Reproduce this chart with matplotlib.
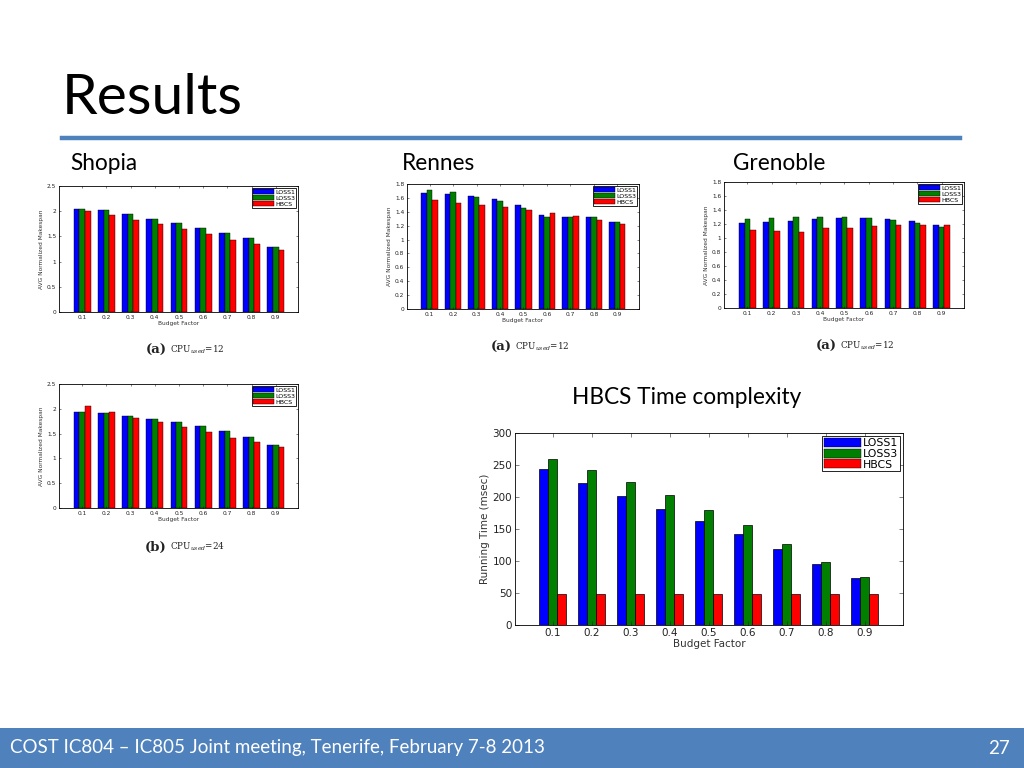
import numpy as np
import matplotlib
matplotlib.use("Agg")
import matplotlib.pyplot as plt
from matplotlib.patches import Rectangle

factores = ["0.1", "0.2", "0.3", "0.4", "0.5", "0.6", "0.7", "0.8", "0.9"]
series = ["LOSS1", "LOSS3", "HBCS"]

shopia_a_loss1 = [2.05, 2.03, 1.94, 1.85, 1.76, 1.67, 1.57, 1.46, 1.29]
shopia_a_loss3 = [2.05, 2.03, 1.94, 1.85, 1.76, 1.67, 1.57, 1.46, 1.29]
shopia_a_hbcs = [2.01, 1.93, 1.83, 1.75, 1.65, 1.55, 1.43, 1.34, 1.24]

rennes_loss1 = [1.67, 1.65, 1.63, 1.59, 1.50, 1.35, 1.33, 1.33, 1.25]
rennes_loss3 = [1.71, 1.68, 1.62, 1.55, 1.45, 1.32, 1.33, 1.33, 1.25]
rennes_hbcs = [1.57, 1.53, 1.50, 1.47, 1.43, 1.38, 1.34, 1.28, 1.22]

grenoble_loss1 = [1.22, 1.23, 1.25, 1.27, 1.28, 1.28, 1.27, 1.24, 1.18]
grenoble_loss3 = [1.27, 1.29, 1.30, 1.30, 1.30, 1.29, 1.26, 1.22, 1.16]
grenoble_hbcs = [1.12, 1.10, 1.09, 1.14, 1.15, 1.17, 1.18, 1.19, 1.18]

shopia_b_loss1 = [1.93, 1.91, 1.86, 1.80, 1.73, 1.65, 1.56, 1.44, 1.27]
shopia_b_loss3 = [1.93, 1.91, 1.86, 1.80, 1.73, 1.65, 1.56, 1.44, 1.27]
shopia_b_hbcs = [2.06, 1.94, 1.82, 1.74, 1.63, 1.53, 1.42, 1.33, 1.23]

tiempo_loss1 = [243, 222, 201, 182, 162, 142, 119, 96, 73]
tiempo_loss3 = [260, 242, 224, 203, 180, 156, 127, 99, 75]
tiempo_hbcs = [48, 48, 48, 48, 48, 48, 48, 48, 48]

colores = ["#0000ff", "#007f00", "#ff0000"]
AZUL = "#4f81bd"
W, H = 1024, 768


def ejes_px(fig, izq, arriba, der, abajo):
    return fig.add_axes([izq / W, 1 - abajo / H, (der - izq) / W, (abajo - arriba) / H])


def barras(ax, valores, ymax, paso, fs, leg_fs, ylabel, xlim=(0.04, 9.92)):
    x = np.arange(1, len(factores) + 1)
    ancho = 0.23
    for i, (v, c, nombre) in enumerate(zip(valores, colores, series)):
        ax.bar(x + (i - 1) * ancho, v, ancho, color=c, edgecolor="black",
               linewidth=0.3, label=nombre)
    ax.set_xlim(*xlim)
    ax.set_ylim(0, ymax)
    ticks = np.arange(0, ymax + paso / 2, paso)
    ax.set_yticks(ticks)
    ax.set_yticklabels([f"{t:g}" for t in ticks])
    ax.set_xticks(x)
    ax.set_xticklabels(factores)
    ax.tick_params(direction="in", length=1.5, width=0.4, labelsize=fs,
                   top=True, right=True, pad=2, colors="#222222")
    for s in ax.spines.values():
        s.set_linewidth(0.6)
    ax.set_xlabel("Budget Factor", fontsize=fs, labelpad=1, color="#333333")
    ax.set_ylabel(ylabel, fontsize=fs, labelpad=2, color="#333333")
    leg = ax.legend(loc="upper right", fontsize=leg_fs, fancybox=False,
                    edgecolor="black", framealpha=1, handlelength=3.4,
                    handleheight=0.9, labelspacing=0.05, borderpad=0.15,
                    handletextpad=0.2, borderaxespad=0.3)
    leg.get_frame().set_linewidth(0.6)


def leyenda_cpu(fig, xc, y, letra, n):
    fig.text(xc - 18 / W, 1 - y / H, f"({letra})", fontsize=9.5,
             family="DejaVu Serif", ha="right", va="center", weight="bold",
             color="#222222")
    fig.text(xc - 15 / W, 1 - y / H, r"CPU$_{used}$=" + str(n), fontsize=6.3,
             family="DejaVu Serif", ha="left", va="center", color="#222222")


fig = plt.figure(figsize=(W / 100, H / 100), dpi=100)
plt.rcParams["mathtext.fontset"] = "dejavuserif"

# titulo y linea
fig.text(62 / W, 1 - 98 / H, "Results", fontsize=41, family="Lato",
         va="center", ha="left", color="black")
fig.add_artist(plt.Line2D([62 / W, 960 / W], [1 - 138 / H, 1 - 138 / H],
                          color=AZUL, linewidth=3.2))

# subtitulos
for txt, xp, yp in [("Shopia", 70, 163), ("Rennes", 402, 163),
                    ("Grenoble", 733, 163), ("HBCS Time complexity", 572, 397)]:
    fig.text(xp / W, 1 - yp / H, txt, fontsize=16.3, family="Lato",
             va="center", ha="left", color="black")

ylab = "AVG Normalized Makespan"

ax1 = ejes_px(fig, 59, 186, 298, 312)
barras(ax1, [shopia_a_loss1, shopia_a_loss3, shopia_a_hbcs], 2.5, 0.5, 4.2, 4.5, ylab)
leyenda_cpu(fig, 185 / W, 350, "a", 12)

ax2 = ejes_px(fig, 407, 184, 639, 309)
barras(ax2, [rennes_loss1, rennes_loss3, rennes_hbcs], 1.8, 0.2, 4.2, 4.5, ylab)
leyenda_cpu(fig, 530 / W, 347, "a", 12)

ax3 = ejes_px(fig, 724, 182, 964, 308)
barras(ax3, [grenoble_loss1, grenoble_loss3, grenoble_hbcs], 1.8, 0.2, 4.2, 4.5, ylab)
leyenda_cpu(fig, 855 / W, 346, "a", 12)

ax4 = ejes_px(fig, 59, 384, 298, 508)
barras(ax4, [shopia_b_loss1, shopia_b_loss3, shopia_b_hbcs], 2.5, 0.5, 4.2, 4.5, ylab)
leyenda_cpu(fig, 185 / W, 547, "b", 24)

ax5 = ejes_px(fig, 515, 433, 903, 625)
barras(ax5, [tiempo_loss1, tiempo_loss3, tiempo_hbcs], 300, 50, 7.5, 7.8,
       "Running Time (msec)", xlim=(0.03, 9.98))
ax5.tick_params(length=3)
for p in ax5.patches:
    p.set_linewidth(0.5)

# pie de pagina
fig.add_artist(Rectangle((0, 0), 1, 40 / H, transform=fig.transFigure,
                         facecolor=AZUL, edgecolor="none"))
fig.text(10 / W, 20 / H, "COST IC804 \u2013 IC805 Joint meeting, Tenerife, February 7-8 2013",
         fontsize=13.5, family="Lato", color="white", va="center", ha="left")
fig.text(1010 / W, 20 / H, "27", fontsize=13.5, family="Lato", color="white",
         va="center", ha="right")

fig.savefig("out.png", dpi=100)
